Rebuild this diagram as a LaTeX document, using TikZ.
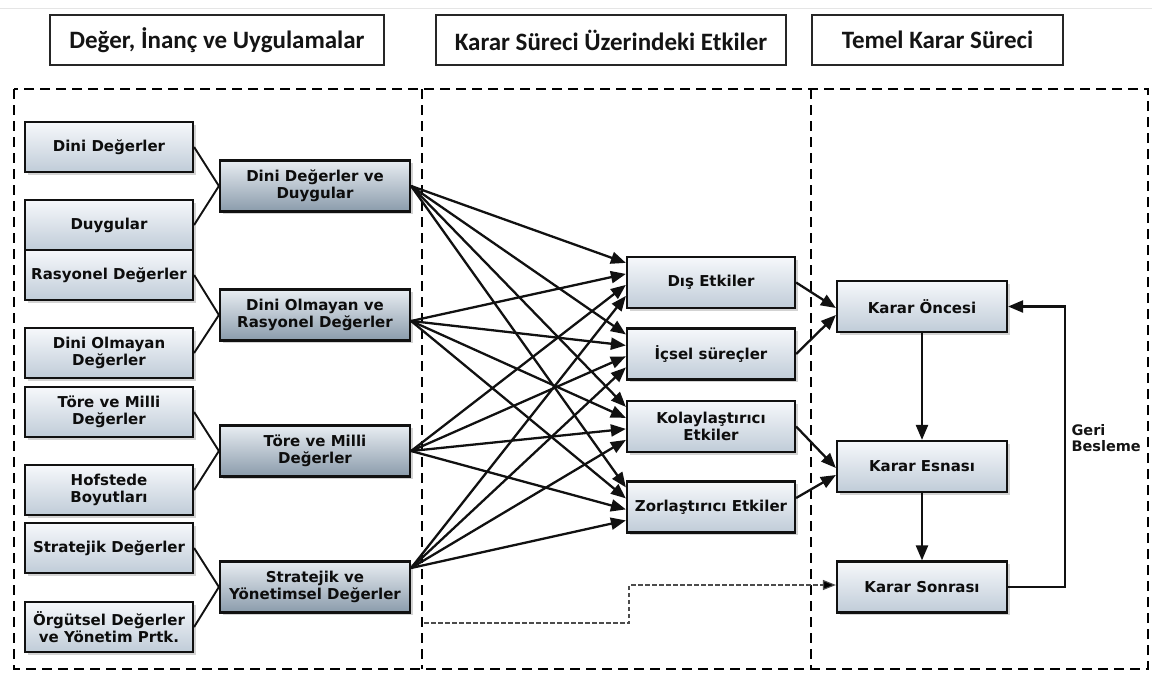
\documentclass[tikz,border=0pt]{standalone}
\usepackage{fontspec}
\setmainfont{DejaVu Sans}
\newfontfamily\headfont{Carlito}
\usetikzlibrary{arrows.meta,shadows,calc}

\definecolor{edge}{HTML}{111111}
\definecolor{lighttop}{HTML}{F6F8FB}
\definecolor{lightbot}{HTML}{C0CCD8}
\definecolor{darktop}{HTML}{E8EDF2}
\definecolor{darkbot}{HTML}{8A9BAB}

\begin{document}
\begin{tikzpicture}[x=1pt,y=-1pt,
  box/.style={rectangle, draw=edge, line width=2.2pt, align=center,
    font=\fontsize{15}{17}\selectfont\bfseries, text=black!95, inner sep=2pt,
    drop shadow={shadow xshift=2.5pt, shadow yshift=-2.5pt, opacity=0.35}},
  light/.style={box, top color=lighttop, bottom color=lightbot},
  dark/.style={box, top color=darktop, bottom color=darkbot},
  leftbox/.style={light, minimum width=168pt, minimum height=50pt},
  midbox/.style={dark, minimum width=190pt, minimum height=51pt},
  effbox/.style={light, minimum width=168pt, minimum height=51pt},
  decbox/.style={light, minimum width=170pt, minimum height=51pt},
  header/.style={rectangle, draw=black!85, line width=1.1pt, fill=white,
    minimum height=50pt, inner sep=0pt,
    font=\headfont\fontsize{25}{28}\selectfont\bfseries, text=black!92},
  panel/.style={draw=black, line width=2.3pt, dash pattern=on 10pt off 6pt},
  link/.style={draw=edge, line width=1.9pt},
  arr/.style={draw=edge, line width=2.3pt, -{Triangle[length=15pt,width=12pt]}},
  dasharr/.style={draw=black!70, line width=1.1pt, dash pattern=on 4.5pt off 2.5pt,
    -{Triangle[length=13pt,width=10pt,fill=black]}},
]
\useasboundingbox (0,0) rectangle (1152,675);

% faint rule at the top of the page
\draw[black!10, line width=1pt] (0,8) -- (1152,8);

% column headings
\node[header, minimum width=334pt] (h1) at (217,40) {Değer, İnanç ve Uygulamalar};
\node[header, minimum width=350pt] (h2) at (611,40) {Karar Süreci Üzerindeki Etkiler};
\node[header, minimum width=251pt] (h3) at (937.5,40) {Temel Karar Süreci};

% dashed column frames
\draw[panel] (14,89) rectangle (1148,669);
\draw[panel] (422,89) -- (422,669);
\draw[panel] (811,89) -- (811,669);

% values, beliefs and practices
\node[leftbox] (l1) at (109,147) {Dini Değerler};
\node[leftbox] (l2) at (109,225) {Duygular};
\node[leftbox] (l3) at (109,275) {Rasyonel Değerler};
\node[leftbox] (l4) at (109,353) {Dini Olmayan\\Değerler};
\node[leftbox] (l5) at (109,412) {Töre ve Milli\\Değerler};
\node[leftbox] (l6) at (109,490) {Hofstede\\Boyutları};
\node[leftbox] (l7) at (109,548) {Stratejik Değerler};
\node[leftbox] (l8) at (109,627) {Örgütsel Değerler\\ve Yönetim Prtk.};

\node[midbox] (m1) at (315,186) {Dini Değerler ve\\Duygular};
\node[midbox] (m2) at (315,315) {Dini Olmayan ve\\Rasyonel Değerler};
\node[midbox] (m3) at (315,451) {Töre ve Milli\\Değerler};
\node[midbox] (m4) at (315,587) {Stratejik ve\\Yönetimsel Değerler};

\draw[link] (l1.east) -- (m1.west);
\draw[link] (l2.east) -- (m1.west);
\draw[link] (l3.east) -- (m2.west);
\draw[link] (l4.east) -- (m2.west);
\draw[link] (l5.east) -- (m3.west);
\draw[link] (l6.east) -- (m3.west);
\draw[link] (l7.east) -- (m4.west);
\draw[link] (l8.east) -- (m4.west);

% influences on the decision process
\node[effbox] (e1) at (711,282.5) {Dış Etkiler};
\node[effbox] (e2) at (711,354) {İçsel süreçler};
\node[effbox] (e3) at (711,426.5) {Kolaylaştırıcı\\Etkiler};
\node[effbox] (e4) at (711,507) {Zorlaştırıcı Etkiler};

\coordinate (s1) at (m1.east);
\coordinate (s2) at ([yshift=-6pt]m2.east);
\coordinate (s3) at (m3.east);
\coordinate (s4) at ([yshift=19pt]m4.east);

\foreach \t in {e1,e2,e3,e4}{
  \foreach \s/\d in {s1/7,s2/18,s3/29,s4/40}{
    \draw[arr] (\s) -- ([yshift=-\d pt]\t.north west);
  }
}

% basic decision process
\node[decbox] (k1) at (922,306.5) {Karar Öncesi};
\node[decbox] (k2) at (922,466.5) {Karar Esnası};
\node[decbox] (k3) at (922,587) {Karar Sonrası};

\draw[arr] (e1.east) -- ([yshift=-1.5pt]k1.west);
\draw[arr] (e2.east) -- ([yshift=-8.5pt]k1.west);
\draw[arr] (e3.east) -- ([yshift=-1.5pt]k2.west);
\draw[arr] ([yshift=9pt]e4.east) -- ([yshift=-8.5pt]k2.west);

\draw[arr] (k1.south) -- (k2.north);
\draw[arr] (k2.south) -- (k3.north);

% feedback loop
\coordinate (fb) at (1065,0);
\draw[arr] (k3.east) -- (k3.east -| fb) -- (k1.east -| fb) -- (k1.east);
\node[anchor=west, align=left, font=\fontsize{14.5}{16}\selectfont\bfseries, text=black!92]
  (gb) at (1068,438) {Geri\\Besleme};

% dashed link into the post-decision stage
\coordinate (dstart) at (424,623);
\draw[dasharr] (dstart) -- ++(205,0) |- ([yshift=2pt]k3.west);
\end{tikzpicture}
\end{document}
